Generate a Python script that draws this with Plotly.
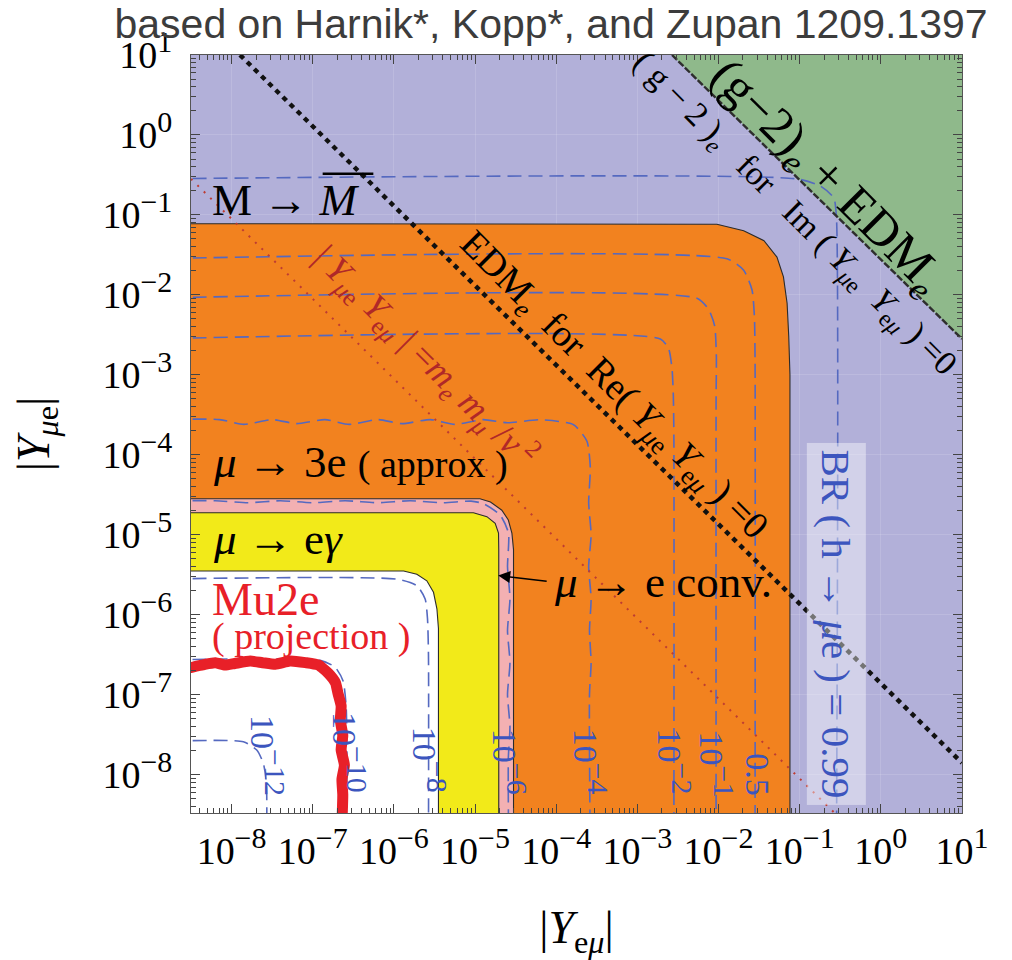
import numpy as np
import plotly.graph_objects as go

# ---------------- axis set-up (log10 of the axis limits) ----------------
X_RANGE = [-8.5, 1.0]
Y_RANGE = [-8.48, 1.0]

x_tick_values = [1e-8, 1e-7, 1e-6, 1e-5, 1e-4, 1e-3, 1e-2, 1e-1, 1e0, 1e1]
x_tick_exponents = ["−8", "−7", "−6", "−5", "−4", "−3", "−2", "−1", "0", "1"]
y_tick_values = [1e-8, 1e-7, 1e-6, 1e-5, 1e-4, 1e-3, 1e-2, 1e-1, 1e0, 1e1]
y_tick_exponents = ["−8", "−7", "−6", "−5", "−4", "−3", "−2", "−1", "0", "1"]

# ---------------- regions (log10 |Y_eμ|, log10 |Y_μe|) ----------------
# (g-2)_e + EDM_e excluded region (upper right)
green_u = [-2.573, 1.0, 1.5, 1.5, -2.573]
green_v = [1.0, -2.551, -2.551, 1.5, 1.5]

# mu -> 3e (approx) excluded region
orange_u = [-9, -9, -2.02, -1.69, -1.44, -1.28, -1.20, -1.155, -1.135, -1.12, -1.12]
orange_v = [-9, -1.11, -1.117, -1.199, -1.322, -1.528, -1.774, -2.104, -2.514, -3.0, -9]

# mu -> e conversion excluded region
pink_u = [-9, -9, -4.94, -4.81, -4.67, -4.59, -4.546, -4.526, -4.526]
pink_v = [-9, -4.549, -4.549, -4.590, -4.693, -4.816, -4.980, -5.186, -9]

# mu -> e gamma excluded region
yellow_u = [-9, -9, -5.02, -4.854, -4.752, -4.711, -4.708, -4.708]
yellow_v = [-9, -4.725, -4.725, -4.774, -4.857, -4.980, -5.186, -9]

# allowed region (white)
white_u = [-9, -9, -5.88, -5.717, -5.594, -5.512, -5.470, -5.451, -5.451]
white_v = [-9, -5.453, -5.453, -5.494, -5.576, -5.720, -5.926, -6.173, -9]

# ---------------- lines ----------------
g2_line_u = [-2.573, 1.0]
g2_line_v = [1.0, -2.551]

edm_line_u = [-7.896, 1.0]
edm_line_v = [1.0, -7.853]

mass_line_u = [-8.5, -0.57]
mass_line_v = [-0.55, -8.48]

mu2e_u = [-8.60, -8.50, -8.33, -8.20, -8.08, -7.96, -7.77, -7.62, -7.46, -7.28, -7.09, -6.93,
          -6.81, -6.72, -6.69, -6.65, -6.66, -6.63, -6.65, -6.61, -6.64, -6.63, -6.64]
mu2e_v = [-6.66, -6.66, -6.62, -6.60, -6.63, -6.61, -6.58, -6.60, -6.62, -6.58, -6.60, -6.63,
          -6.73, -6.85, -6.98, -7.14, -7.32, -7.51, -7.69, -7.88, -8.06, -8.25, -8.60]

# BR(h -> mu e) contours (dashed)
br_level_base = ["10", "10", "10", "10", "10", "10", "10", "0.5"]
br_level_exp = ["−12", "−10", "−8", "−6", "−4", "−2", "−1", ""]
br_u = [
    [-9, -7.855, -7.690, -7.609, -7.575, -7.567, -7.567],
    [-9, -6.909, -6.724, -6.626, -6.589, -6.58, -6.58],
    [-9, -5.964, -5.717, -5.615, -5.586, -5.574, -5.574],
    [-9, -8.2, -7.8, -7.4, -7.0, -6.6, -6.2, -5.8, -5.4, -5.05, -4.90, -4.69, -4.588, -4.60, -4.57,
     -4.60, -4.57, -4.60, -4.57, -4.59, -4.585],
    [-9, -8.15, -7.85, -7.5, -7.2, -6.85, -6.55, -6.2, -5.9, -5.55, -5.25, -4.9, -4.6, -4.2,
     -3.786, -3.621, -3.58, -3.60, -3.57, -3.60, -3.57, -3.59, -3.57, -3.59, -3.58],
    [-9, -2.717, -2.614, -2.573, -2.557, -2.55, -2.55],
    [-9, -2.265, -2.121, -2.047, -2.027, -2.03, -2.03],
    [-9, -1.895, -1.690, -1.587, -1.558, -1.55, -1.55],
    [-9, -1.031, -0.744, -0.580, -0.547, -0.547],
]
br_v = [
    [-7.590, -7.590, -7.693, -7.857, -8.063, -8.25, -9],
    [-6.571, -6.571, -6.657, -6.830, -7.138, -7.5, -9],
    [-5.556, -5.556, -5.637, -5.803, -6.049, -6.5, -9],
    [-4.575, -4.575, -4.60, -4.575, -4.60, -4.575, -4.60, -4.575, -4.60, -4.58, -4.610, -4.755,
     -4.980, -5.4, -5.8, -6.2, -6.6, -7.0, -7.4, -7.8, -9],
    [-3.56, -3.56, -3.62, -3.56, -3.61, -3.56, -3.62, -3.56, -3.61, -3.56, -3.62, -3.56, -3.60,
     -3.562, -3.624, -3.830, -4.158, -4.6, -5.0, -5.4, -5.8, -6.2, -6.6, -7.0, -9],
    [-2.551, -2.551, -2.678, -2.925, -3.25, -3.8, -9],
    [-2.042, -2.042, -2.185, -2.391, -2.76, -3.3, -9],
    [-1.549, -1.549, -1.692, -1.939, -2.27, -2.8, -9],
    [-0.55, -0.55, -0.640, -0.788, -1.035, -9],
]
# label positions of the BR contours (log10 units)
br_label_u = [-7.551, -6.539, -5.553, -4.567, -3.568, -2.532, -2.014, -1.521]
br_label_v = [-7.755, -7.718, -7.816, -7.841, -7.841, -7.841, -7.878, -8.001]

# ---------------- styles ----------------
LAVENDER = "rgb(178,176,217)"
GREEN = "rgb(143,185,139)"
ORANGE = "rgb(242,130,31)"
PINK = "rgb(243,176,178)"
YELLOW = "rgb(242,234,25)"
BLUE = "rgb(85,105,192)"
BLUE_TXT = "rgb(60,85,190)"
RED = "rgb(232,32,40)"
DARKRED = "rgb(176,40,40)"
SERIF = "Liberation Serif"


def P(a):
    return np.power(10.0, np.asarray(a, dtype=float))


def tick_text(exps, size):
    return ["10<sup><span style='font-size:%dpx'>%s</span></sup>" % (size, e) for e in exps]


fig = go.Figure()

fills = [(green_u, green_v, GREEN, 0), (orange_u, orange_v, ORANGE, 1.1),
         (pink_u, pink_v, PINK, 1.1), (yellow_u, yellow_v, YELLOW, 1.1),
         (white_u, white_v, "white", 1.1)]
for u, v, col, w in fills:
    fig.add_trace(go.Scatter(x=P(u), y=P(v), mode="lines", fill="toself", fillcolor=col,
                             line=dict(color="#2b2b2b", width=w if w else 0.01),
                             hoverinfo="skip", showlegend=False))

for u, v in zip(br_u, br_v):
    fig.add_trace(go.Scatter(x=P(u), y=P(v), mode="lines",
                             line=dict(color=BLUE, width=1.6, dash="14px,7px", shape="spline",
                                       smoothing=0.6),
                             hoverinfo="skip", showlegend=False))

fig.add_trace(go.Scatter(x=P(g2_line_u), y=P(g2_line_v), mode="lines",
                         line=dict(color="#2e2e2e", width=2.4, dash="7px,2px"),
                         hoverinfo="skip", showlegend=False))
fig.add_trace(go.Scatter(x=P(mass_line_u), y=P(mass_line_v), mode="lines",
                         line=dict(color="rgb(190,60,50)", width=2, dash="2px,7px"),
                         hoverinfo="skip", showlegend=False))
fig.add_trace(go.Scatter(x=P(edm_line_u), y=P(edm_line_v), mode="lines",
                         line=dict(color="#111111", width=4.5, dash="5px,5px"),
                         hoverinfo="skip", showlegend=False))
fig.add_trace(go.Scatter(x=P(mu2e_u), y=P(mu2e_v), mode="lines",
                         line=dict(color=RED, width=11, shape="spline", smoothing=0.5),
                         hoverinfo="skip", showlegend=False))

ann = []


def add(u, v, text, size, color="black", angle=0, xanchor="center", **kw):
    d = dict(x=u, y=v, xref="x", yref="y", text=text, showarrow=False, textangle=angle,
             xanchor=xanchor, yanchor="middle",
             font=dict(family=SERIF, size=size, color=color))
    d.update(kw)
    ann.append(d)


add(-8.266, -0.813, "M → <i>M</i>", 45, xanchor="left")
add(-6.564, -0.43, "—", 50)  # overline of anti-meson
add(-8.253, -4.093, "<i>μ</i> → 3e <span style='font-size:38px'>( approx )</span>", 45,
    xanchor="left")
add(-8.253, -5.054, "<i>μ</i> → e<i>γ</i>", 45, xanchor="left")
add(-8.266, -5.806, "Mu2e", 46, color=RED, xanchor="left")
add(-8.266, -6.275, "( projection )", 38, color=RED, xanchor="left")
add(-4.052, -5.597, "<i>μ</i> → e conv.", 45, xanchor="left")
ann.append(dict(x=-4.715, y=-5.510, xref="x", yref="y", text="", showarrow=True,
                ax=50, ay=6, axref="pixel", ayref="pixel", arrowhead=2, arrowsize=1.6,
                arrowwidth=1.5, arrowcolor="black"))
add(-3.309, -3.143,
    "EDM<sub><i>e</i></sub>  for  Re( <i>Y</i><sub><i>μ</i>e</sub> <i>Y</i><sub>e<i>μ</i></sub> ) =0",
    38, angle=45)
add(-1.065, -0.998,
    "( g − 2 )<sub><i>e</i></sub>   for   Im ( <i>Y</i><sub><i>μ</i>e</sub>  <i>Y</i><sub>e<i>μ</i></sub> ) =0",
    34, angle=45)
add(-0.682, -0.541, "(g−2)<sub><i>e</i></sub> + EDM<sub><i>e</i></sub>", 50, angle=45)
add(-5.615, -2.761,
    "| <i>Y</i><sub><i>μ</i>e</sub> <i>Y</i><sub>e<i>μ</i></sub> | =<i>m</i><sub><i>e</i></sub> <i>m</i><sub><i>μ</i></sub> /<i>v</i><sup> 2</sup>",
    36, color=DARKRED, angle=45)
add(-0.547, -6.115, "BR ( h → <i>μ</i>e ) = 0.99", 41, color=BLUE_TXT, angle=90,
    bgcolor="rgba(255,255,255,0.42)", borderpad=6)
for u, v, b, e in zip(br_label_u, br_label_v, br_level_base, br_level_exp):
    t = b if not e else "%s<sup><span style='font-size:30px'>%s</span></sup>" % (b, e)
    add(u, v, t, 34, color=BLUE_TXT, angle=90)

fig.update_layout(annotations=ann)

minor_vals = [m * 10.0 ** k for k in range(-9, 1) for m in range(2, 10)]
axis_common = dict(type="log", tickmode="array", ticks="inside", ticklen=9, tickwidth=1,
                   tickcolor="#444", showline=True, linecolor="#555", linewidth=1.2,
                   mirror="ticks", showgrid=True, gridcolor="rgba(255,255,255,0.13)",
                   zeroline=False, tickfont=dict(family=SERIF, size=38, color="black"),
                   minor=dict(tickvals=minor_vals, ticks="inside", ticklen=5, tickcolor="#444",
                              showgrid=False))

fig.update_xaxes(range=X_RANGE, tickvals=x_tick_values, ticktext=tick_text(x_tick_exponents, 30),
                 ticklabelstandoff=4,
                 title=dict(text="|<i>Y</i><sub>e<i>μ</i></sub>|",
                            font=dict(family=SERIF, size=46, color="black"), standoff=44),
                 **axis_common)
fig.update_yaxes(range=Y_RANGE, tickvals=y_tick_values, ticktext=tick_text(y_tick_exponents, 30),
                 ticklabelstandoff=10,
                 title=dict(text="|<i>Y</i><sub><i>μ</i>e</sub>|",
                            font=dict(family=SERIF, size=46, color="black"), standoff=38),
                 **axis_common)

fig.update_layout(
    width=1012, height=960, autosize=False,
    margin=dict(l=191, r=50, t=55, b=135),
    paper_bgcolor="white", plot_bgcolor=LAVENDER, showlegend=False,
    title=dict(text="based on Harnik*, Kopp*, and Zupan 1209.1397", x=0.5445, xanchor="center",
               xref="container", y=0.975, yanchor="middle", yref="container",
               font=dict(family="Liberation Sans", size=41, color="#3c3c3c")),
)

fig.write_html("out.html")
